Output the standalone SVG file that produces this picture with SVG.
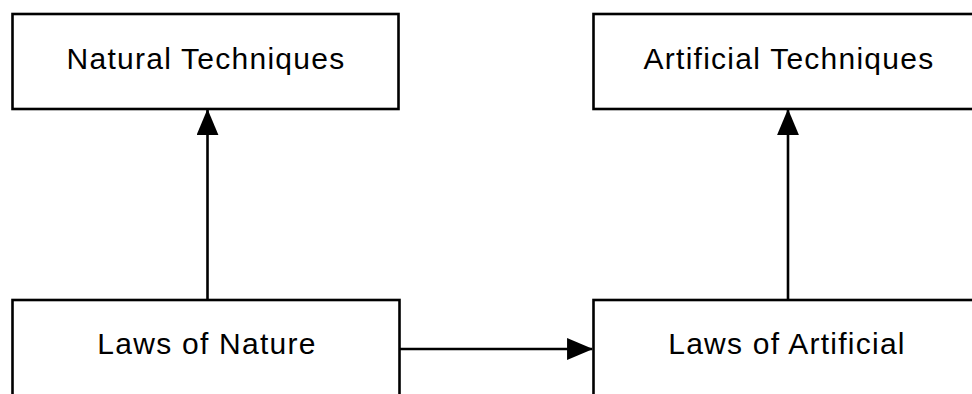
<svg xmlns="http://www.w3.org/2000/svg" width="972" height="394" viewBox="0 0 972 394">
  <style>
    .box { fill: #ffffff; stroke: #000000; stroke-width: 2.6; }
    .lbl { font-family: "Liberation Sans", Arial, Helvetica, sans-serif; font-size: 30px; letter-spacing: 1.25px; fill: #000000; text-anchor: middle; }
    .conn { stroke: #000000; stroke-width: 2.6; fill: none; marker-end: url(#arrow); }
  </style>
  <defs>
    <marker id="arrow" markerUnits="userSpaceOnUse" markerWidth="26" markerHeight="22" viewBox="0 0 25 21" refX="24" refY="10.5" orient="auto">
      <path d="M0,0 L25,10.5 L0,21 z" fill="#000000"/>
    </marker>
  </defs>
  <rect width="972" height="394" fill="#ffffff"/>
  <g id="natural-techniques">
    <rect class="box" x="12.5" y="14" width="386" height="95"/>
    <text class="lbl" x="206" y="68.5">Natural Techniques</text>
  </g>
  <g id="artificial-techniques">
    <rect class="box" x="593.5" y="14" width="400" height="95"/>
    <text class="lbl" x="789" y="68.5">Artificial Techniques</text>
  </g>
  <g id="laws-of-nature">
    <rect class="box" x="12.5" y="300" width="387" height="120"/>
    <text class="lbl" x="207" y="354">Laws of Nature</text>
  </g>
  <g id="laws-of-artificial">
    <rect class="box" x="593.5" y="300" width="400" height="120"/>
    <text class="lbl" x="787" y="354">Laws of Artificial</text>
  </g>
  <g id="connectors">
    <line class="conn" x1="207.5" y1="299" x2="207.5" y2="110"/>
    <line class="conn" x1="788" y1="299" x2="788" y2="110"/>
    <line class="conn" x1="400" y1="349" x2="592" y2="349"/>
  </g>
</svg>
